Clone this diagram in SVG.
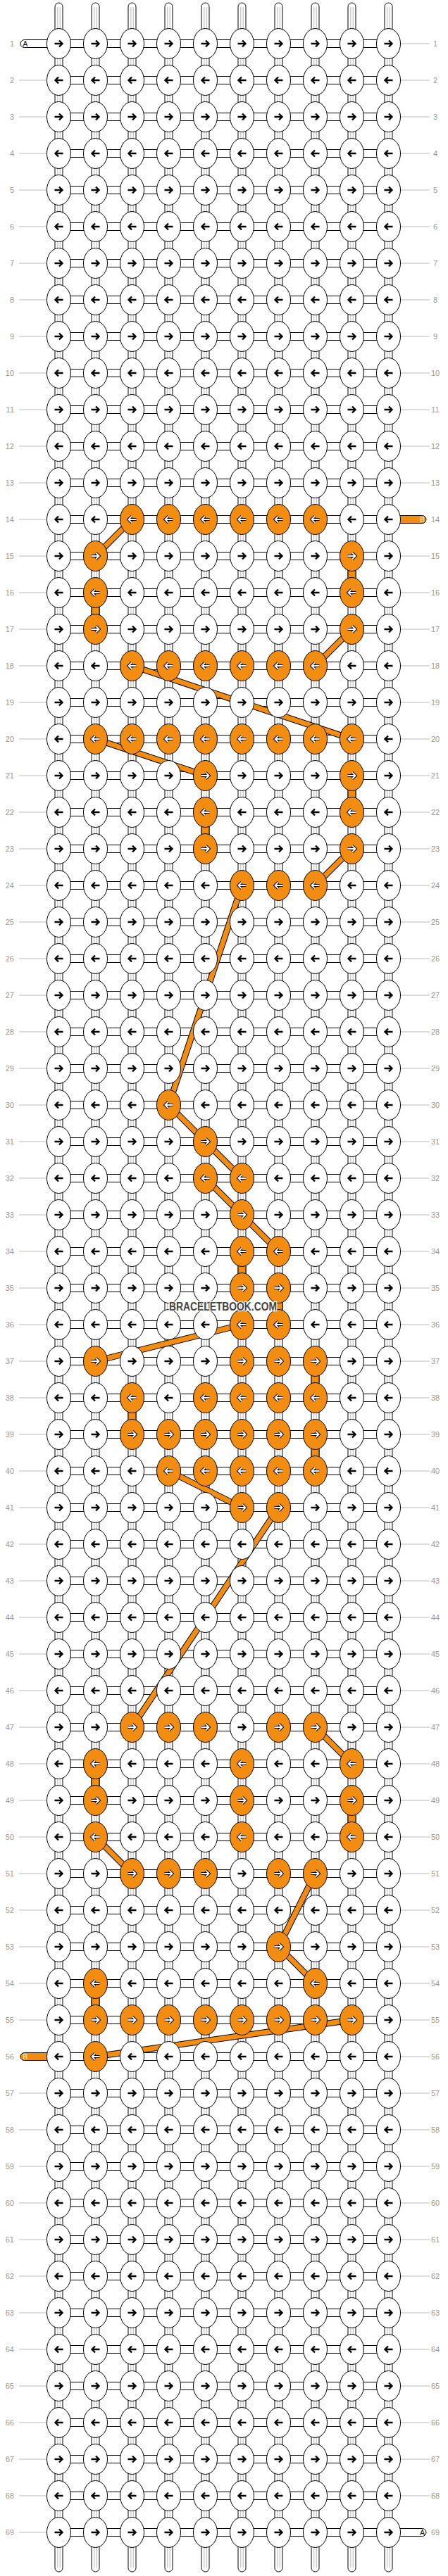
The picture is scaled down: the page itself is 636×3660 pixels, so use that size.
<svg xmlns="http://www.w3.org/2000/svg" xmlns:xlink="http://www.w3.org/1999/xlink" width="636" height="3660" viewBox="0 0 636 3660">
<style>
.tb{fill:#fff;stroke:#000;stroke-width:1}
.gl{fill:none;stroke:#b4b4b4;stroke-width:1}
.ov{fill:#F28D12;stroke:#000;stroke-width:1}
.ot{fill:#F28D12;stroke:#000;stroke-width:1}
.bo{fill:none;stroke:#000;stroke-width:9}
.bi{fill:none;stroke:#F28D12;stroke-width:7}
.nw{fill:#fff;stroke:#000;stroke-width:1}
.no{fill:#F28D12;stroke:#000;stroke-width:1}
.ab{fill:none;stroke:#000;stroke-width:2.4}
.ak{fill:none;stroke:#000;stroke-width:4}
.aw{fill:none;stroke:#fff;stroke-width:2}
.sl{fill:none;stroke:#bbb;stroke-width:1}
.ll{font-family:"Liberation Sans",Arial,sans-serif;font-size:11px;fill:#999;text-anchor:end}
.lr{font-family:"Liberation Sans",Arial,sans-serif;font-size:11px;fill:#999;text-anchor:middle}
.ta{font-family:"Liberation Sans",Arial,sans-serif;font-size:10px;fill:#000;text-anchor:middle}
.tw{font-family:"Liberation Sans",Arial,sans-serif;font-size:10px;fill:#fff;text-anchor:middle}
.wm{font-family:"Liberation Sans",Arial,sans-serif;font-size:16px;font-weight:bold;fill:#444;stroke:#fff;stroke-width:2.5;paint-order:stroke;text-anchor:middle}
</style>
<defs>
<path id="pr" d="M-6,0H4M0.5,-4.5L5,0L0.5,4.5"/>
<path id="pl" d="M6,0H-4M-0.5,-4.5L-5,0L-0.5,4.5"/>
<ellipse id="e" rx="17" ry="21.5"/>
<g id="a"><use href="#e" class="nw"/><use href="#pr" class="ab"/></g>
<g id="b"><use href="#e" class="nw"/><use href="#pl" class="ab"/></g>
<g id="c"><use href="#e" class="no"/><use href="#pr" class="ak"/><use href="#pr" class="aw"/></g>
<g id="d"><use href="#e" class="no"/><use href="#pl" class="ak"/><use href="#pl" class="aw"/></g>
<g id="col"><rect x="-5.5" y="4" width="11" height="3650" rx="5.5" class="tb"/><path d="M-1.7,10V3648M1.7,10V3648" class="gl"/></g>
<rect id="hl" x="83.5" y="-5.5" width="468" height="11" class="tb"/>
<path id="bands" d="M187.5,738L135.5,790M499.5,894L447.5,946M187.5,946L499.5,1050M135.5,1050L291.5,1102M499.5,1206L447.5,1258M343.5,1258L239.5,1570M239.5,1570L291.5,1622M291.5,1622L343.5,1674M291.5,1674L343.5,1726M343.5,1726L395.5,1778M343.5,1882L135.5,1934M239.5,2090L343.5,2142M395.5,2142L187.5,2454M447.5,2454L499.5,2506M135.5,2610L187.5,2662M447.5,2662L395.5,2766M395.5,2766L447.5,2818M499.5,2870L135.5,2922"/>
</defs>
<rect width="636" height="3660" fill="#fff"/>
<g id="connectors">
<g id="strings">
<use href="#col" x="83.5"/><use href="#col" x="135.5"/><use href="#col" x="187.5"/><use href="#col" x="239.5"/><use href="#col" x="291.5"/><use href="#col" x="343.5"/><use href="#col" x="395.5"/><use href="#col" x="447.5"/><use href="#col" x="499.5"/><use href="#col" x="551.5"/>
</g>
<g id="row-links">
<use href="#hl" y="62"/><use href="#hl" y="114"/><use href="#hl" y="166"/><use href="#hl" y="218"/><use href="#hl" y="270"/><use href="#hl" y="322"/><use href="#hl" y="374"/><use href="#hl" y="426"/><use href="#hl" y="478"/><use href="#hl" y="530"/><use href="#hl" y="582"/><use href="#hl" y="634"/><use href="#hl" y="686"/><use href="#hl" y="738"/><use href="#hl" y="790"/><use href="#hl" y="842"/><use href="#hl" y="894"/><use href="#hl" y="946"/><use href="#hl" y="998"/><use href="#hl" y="1050"/><use href="#hl" y="1102"/><use href="#hl" y="1154"/><use href="#hl" y="1206"/><use href="#hl" y="1258"/><use href="#hl" y="1310"/><use href="#hl" y="1362"/><use href="#hl" y="1414"/><use href="#hl" y="1466"/><use href="#hl" y="1518"/><use href="#hl" y="1570"/><use href="#hl" y="1622"/><use href="#hl" y="1674"/><use href="#hl" y="1726"/><use href="#hl" y="1778"/><use href="#hl" y="1830"/><use href="#hl" y="1882"/><use href="#hl" y="1934"/><use href="#hl" y="1986"/><use href="#hl" y="2038"/><use href="#hl" y="2090"/><use href="#hl" y="2142"/><use href="#hl" y="2194"/><use href="#hl" y="2246"/><use href="#hl" y="2298"/><use href="#hl" y="2350"/><use href="#hl" y="2402"/><use href="#hl" y="2454"/><use href="#hl" y="2506"/><use href="#hl" y="2558"/><use href="#hl" y="2610"/><use href="#hl" y="2662"/><use href="#hl" y="2714"/><use href="#hl" y="2766"/><use href="#hl" y="2818"/><use href="#hl" y="2870"/><use href="#hl" y="2922"/><use href="#hl" y="2974"/><use href="#hl" y="3026"/><use href="#hl" y="3078"/><use href="#hl" y="3130"/><use href="#hl" y="3182"/><use href="#hl" y="3234"/><use href="#hl" y="3286"/><use href="#hl" y="3338"/><use href="#hl" y="3390"/><use href="#hl" y="3442"/><use href="#hl" y="3494"/><use href="#hl" y="3546"/><use href="#hl" y="3598"/>
</g>
<g id="orange-links">
<rect class="ov" x="494" y="805" width="11" height="22"/>
<rect class="ov" x="130" y="857" width="11" height="22"/>
<rect class="ov" x="494" y="1117" width="11" height="22"/>
<rect class="ov" x="286" y="1169" width="11" height="22"/>
<rect class="ov" x="338" y="1793" width="11" height="22"/>
<rect class="ov" x="390" y="1845" width="11" height="22"/>
<rect class="ov" x="442" y="1949" width="11" height="22"/>
<rect class="ov" x="182" y="2001" width="11" height="22"/>
<rect class="ov" x="442" y="2053" width="11" height="22"/>
<rect class="ov" x="130" y="2521" width="11" height="22"/>
<rect class="ov" x="494" y="2573" width="11" height="22"/>
<rect class="ov" x="130" y="2833" width="11" height="22"/>
</g>
<g id="orange-path">
<use href="#bands" class="bo"/><use href="#bands" class="bi"/>
</g>
<g id="ends">
<rect class="tb" x="29" y="56.5" width="60" height="11" rx="5.5"/>
<rect class="tb" x="546" y="3592.5" width="59" height="11" rx="5.5"/>
<rect class="ot" x="546" y="732.5" width="59" height="11" rx="5.5"/>
<rect class="ot" x="29" y="2916.5" width="60" height="11" rx="5.5"/>
</g>
<path id="side-lines" class="sl" d="M27,114H66.5M27,166H66.5M27,218H66.5M27,270H66.5M27,322H66.5M27,374H66.5M27,426H66.5M27,478H66.5M27,530H66.5M27,582H66.5M27,634H66.5M27,686H66.5M27,738H66.5M27,790H66.5M27,842H66.5M27,894H66.5M27,946H66.5M27,998H66.5M27,1050H66.5M27,1102H66.5M27,1154H66.5M27,1206H66.5M27,1258H66.5M27,1310H66.5M27,1362H66.5M27,1414H66.5M27,1466H66.5M27,1518H66.5M27,1570H66.5M27,1622H66.5M27,1674H66.5M27,1726H66.5M27,1778H66.5M27,1830H66.5M27,1882H66.5M27,1934H66.5M27,1986H66.5M27,2038H66.5M27,2090H66.5M27,2142H66.5M27,2194H66.5M27,2246H66.5M27,2298H66.5M27,2350H66.5M27,2402H66.5M27,2454H66.5M27,2506H66.5M27,2558H66.5M27,2610H66.5M27,2662H66.5M27,2714H66.5M27,2766H66.5M27,2818H66.5M27,2870H66.5M27,2974H66.5M27,3026H66.5M27,3078H66.5M27,3130H66.5M27,3182H66.5M27,3234H66.5M27,3286H66.5M27,3338H66.5M27,3390H66.5M27,3442H66.5M27,3494H66.5M27,3546H66.5M27,3598H66.5M568.5,62H610M568.5,114H610M568.5,166H610M568.5,218H610M568.5,270H610M568.5,322H610M568.5,374H610M568.5,426H610M568.5,478H610M568.5,530H610M568.5,582H610M568.5,634H610M568.5,686H610M568.5,790H610M568.5,842H610M568.5,894H610M568.5,946H610M568.5,998H610M568.5,1050H610M568.5,1102H610M568.5,1154H610M568.5,1206H610M568.5,1258H610M568.5,1310H610M568.5,1362H610M568.5,1414H610M568.5,1466H610M568.5,1518H610M568.5,1570H610M568.5,1622H610M568.5,1674H610M568.5,1726H610M568.5,1778H610M568.5,1830H610M568.5,1882H610M568.5,1934H610M568.5,1986H610M568.5,2038H610M568.5,2090H610M568.5,2142H610M568.5,2194H610M568.5,2246H610M568.5,2298H610M568.5,2350H610M568.5,2402H610M568.5,2454H610M568.5,2506H610M568.5,2558H610M568.5,2610H610M568.5,2662H610M568.5,2714H610M568.5,2766H610M568.5,2818H610M568.5,2870H610M568.5,2922H610M568.5,2974H610M568.5,3026H610M568.5,3078H610M568.5,3130H610M568.5,3182H610M568.5,3234H610M568.5,3286H610M568.5,3338H610M568.5,3390H610M568.5,3442H610M568.5,3494H610M568.5,3546H610"/>
</g>
<g id="knots">
<g id="r1" transform="translate(0,62)"><use href="#a" x="83.5"/><use href="#a" x="135.5"/><use href="#a" x="187.5"/><use href="#a" x="239.5"/><use href="#a" x="291.5"/><use href="#a" x="343.5"/><use href="#a" x="395.5"/><use href="#a" x="447.5"/><use href="#a" x="499.5"/><use href="#a" x="551.5"/></g>
<g id="r2" transform="translate(0,114)"><use href="#b" x="83.5"/><use href="#b" x="135.5"/><use href="#b" x="187.5"/><use href="#b" x="239.5"/><use href="#b" x="291.5"/><use href="#b" x="343.5"/><use href="#b" x="395.5"/><use href="#b" x="447.5"/><use href="#b" x="499.5"/><use href="#b" x="551.5"/></g>
<g id="r3" transform="translate(0,166)"><use href="#a" x="83.5"/><use href="#a" x="135.5"/><use href="#a" x="187.5"/><use href="#a" x="239.5"/><use href="#a" x="291.5"/><use href="#a" x="343.5"/><use href="#a" x="395.5"/><use href="#a" x="447.5"/><use href="#a" x="499.5"/><use href="#a" x="551.5"/></g>
<g id="r4" transform="translate(0,218)"><use href="#b" x="83.5"/><use href="#b" x="135.5"/><use href="#b" x="187.5"/><use href="#b" x="239.5"/><use href="#b" x="291.5"/><use href="#b" x="343.5"/><use href="#b" x="395.5"/><use href="#b" x="447.5"/><use href="#b" x="499.5"/><use href="#b" x="551.5"/></g>
<g id="r5" transform="translate(0,270)"><use href="#a" x="83.5"/><use href="#a" x="135.5"/><use href="#a" x="187.5"/><use href="#a" x="239.5"/><use href="#a" x="291.5"/><use href="#a" x="343.5"/><use href="#a" x="395.5"/><use href="#a" x="447.5"/><use href="#a" x="499.5"/><use href="#a" x="551.5"/></g>
<g id="r6" transform="translate(0,322)"><use href="#b" x="83.5"/><use href="#b" x="135.5"/><use href="#b" x="187.5"/><use href="#b" x="239.5"/><use href="#b" x="291.5"/><use href="#b" x="343.5"/><use href="#b" x="395.5"/><use href="#b" x="447.5"/><use href="#b" x="499.5"/><use href="#b" x="551.5"/></g>
<g id="r7" transform="translate(0,374)"><use href="#a" x="83.5"/><use href="#a" x="135.5"/><use href="#a" x="187.5"/><use href="#a" x="239.5"/><use href="#a" x="291.5"/><use href="#a" x="343.5"/><use href="#a" x="395.5"/><use href="#a" x="447.5"/><use href="#a" x="499.5"/><use href="#a" x="551.5"/></g>
<g id="r8" transform="translate(0,426)"><use href="#b" x="83.5"/><use href="#b" x="135.5"/><use href="#b" x="187.5"/><use href="#b" x="239.5"/><use href="#b" x="291.5"/><use href="#b" x="343.5"/><use href="#b" x="395.5"/><use href="#b" x="447.5"/><use href="#b" x="499.5"/><use href="#b" x="551.5"/></g>
<g id="r9" transform="translate(0,478)"><use href="#a" x="83.5"/><use href="#a" x="135.5"/><use href="#a" x="187.5"/><use href="#a" x="239.5"/><use href="#a" x="291.5"/><use href="#a" x="343.5"/><use href="#a" x="395.5"/><use href="#a" x="447.5"/><use href="#a" x="499.5"/><use href="#a" x="551.5"/></g>
<g id="r10" transform="translate(0,530)"><use href="#b" x="83.5"/><use href="#b" x="135.5"/><use href="#b" x="187.5"/><use href="#b" x="239.5"/><use href="#b" x="291.5"/><use href="#b" x="343.5"/><use href="#b" x="395.5"/><use href="#b" x="447.5"/><use href="#b" x="499.5"/><use href="#b" x="551.5"/></g>
<g id="r11" transform="translate(0,582)"><use href="#a" x="83.5"/><use href="#a" x="135.5"/><use href="#a" x="187.5"/><use href="#a" x="239.5"/><use href="#a" x="291.5"/><use href="#a" x="343.5"/><use href="#a" x="395.5"/><use href="#a" x="447.5"/><use href="#a" x="499.5"/><use href="#a" x="551.5"/></g>
<g id="r12" transform="translate(0,634)"><use href="#b" x="83.5"/><use href="#b" x="135.5"/><use href="#b" x="187.5"/><use href="#b" x="239.5"/><use href="#b" x="291.5"/><use href="#b" x="343.5"/><use href="#b" x="395.5"/><use href="#b" x="447.5"/><use href="#b" x="499.5"/><use href="#b" x="551.5"/></g>
<g id="r13" transform="translate(0,686)"><use href="#a" x="83.5"/><use href="#a" x="135.5"/><use href="#a" x="187.5"/><use href="#a" x="239.5"/><use href="#a" x="291.5"/><use href="#a" x="343.5"/><use href="#a" x="395.5"/><use href="#a" x="447.5"/><use href="#a" x="499.5"/><use href="#a" x="551.5"/></g>
<g id="r14" transform="translate(0,738)"><use href="#b" x="83.5"/><use href="#b" x="135.5"/><use href="#d" x="187.5"/><use href="#d" x="239.5"/><use href="#d" x="291.5"/><use href="#d" x="343.5"/><use href="#d" x="395.5"/><use href="#d" x="447.5"/><use href="#b" x="499.5"/><use href="#b" x="551.5"/></g>
<g id="r15" transform="translate(0,790)"><use href="#a" x="83.5"/><use href="#c" x="135.5"/><use href="#a" x="187.5"/><use href="#a" x="239.5"/><use href="#a" x="291.5"/><use href="#a" x="343.5"/><use href="#a" x="395.5"/><use href="#a" x="447.5"/><use href="#c" x="499.5"/><use href="#a" x="551.5"/></g>
<g id="r16" transform="translate(0,842)"><use href="#b" x="83.5"/><use href="#d" x="135.5"/><use href="#b" x="187.5"/><use href="#b" x="239.5"/><use href="#b" x="291.5"/><use href="#b" x="343.5"/><use href="#b" x="395.5"/><use href="#b" x="447.5"/><use href="#d" x="499.5"/><use href="#b" x="551.5"/></g>
<g id="r17" transform="translate(0,894)"><use href="#a" x="83.5"/><use href="#c" x="135.5"/><use href="#a" x="187.5"/><use href="#a" x="239.5"/><use href="#a" x="291.5"/><use href="#a" x="343.5"/><use href="#a" x="395.5"/><use href="#a" x="447.5"/><use href="#c" x="499.5"/><use href="#a" x="551.5"/></g>
<g id="r18" transform="translate(0,946)"><use href="#b" x="83.5"/><use href="#b" x="135.5"/><use href="#d" x="187.5"/><use href="#d" x="239.5"/><use href="#d" x="291.5"/><use href="#d" x="343.5"/><use href="#d" x="395.5"/><use href="#d" x="447.5"/><use href="#b" x="499.5"/><use href="#b" x="551.5"/></g>
<g id="r19" transform="translate(0,998)"><use href="#a" x="83.5"/><use href="#a" x="135.5"/><use href="#a" x="187.5"/><use href="#a" x="239.5"/><use href="#a" x="291.5"/><use href="#a" x="343.5"/><use href="#a" x="395.5"/><use href="#a" x="447.5"/><use href="#a" x="499.5"/><use href="#a" x="551.5"/></g>
<g id="r20" transform="translate(0,1050)"><use href="#b" x="83.5"/><use href="#d" x="135.5"/><use href="#d" x="187.5"/><use href="#d" x="239.5"/><use href="#d" x="291.5"/><use href="#d" x="343.5"/><use href="#d" x="395.5"/><use href="#d" x="447.5"/><use href="#d" x="499.5"/><use href="#b" x="551.5"/></g>
<g id="r21" transform="translate(0,1102)"><use href="#a" x="83.5"/><use href="#a" x="135.5"/><use href="#a" x="187.5"/><use href="#a" x="239.5"/><use href="#c" x="291.5"/><use href="#a" x="343.5"/><use href="#a" x="395.5"/><use href="#a" x="447.5"/><use href="#c" x="499.5"/><use href="#a" x="551.5"/></g>
<g id="r22" transform="translate(0,1154)"><use href="#b" x="83.5"/><use href="#b" x="135.5"/><use href="#b" x="187.5"/><use href="#b" x="239.5"/><use href="#d" x="291.5"/><use href="#b" x="343.5"/><use href="#b" x="395.5"/><use href="#b" x="447.5"/><use href="#d" x="499.5"/><use href="#b" x="551.5"/></g>
<g id="r23" transform="translate(0,1206)"><use href="#a" x="83.5"/><use href="#a" x="135.5"/><use href="#a" x="187.5"/><use href="#a" x="239.5"/><use href="#c" x="291.5"/><use href="#a" x="343.5"/><use href="#a" x="395.5"/><use href="#a" x="447.5"/><use href="#c" x="499.5"/><use href="#a" x="551.5"/></g>
<g id="r24" transform="translate(0,1258)"><use href="#b" x="83.5"/><use href="#b" x="135.5"/><use href="#b" x="187.5"/><use href="#b" x="239.5"/><use href="#b" x="291.5"/><use href="#d" x="343.5"/><use href="#d" x="395.5"/><use href="#d" x="447.5"/><use href="#b" x="499.5"/><use href="#b" x="551.5"/></g>
<g id="r25" transform="translate(0,1310)"><use href="#a" x="83.5"/><use href="#a" x="135.5"/><use href="#a" x="187.5"/><use href="#a" x="239.5"/><use href="#a" x="291.5"/><use href="#a" x="343.5"/><use href="#a" x="395.5"/><use href="#a" x="447.5"/><use href="#a" x="499.5"/><use href="#a" x="551.5"/></g>
<g id="r26" transform="translate(0,1362)"><use href="#b" x="83.5"/><use href="#b" x="135.5"/><use href="#b" x="187.5"/><use href="#b" x="239.5"/><use href="#b" x="291.5"/><use href="#b" x="343.5"/><use href="#b" x="395.5"/><use href="#b" x="447.5"/><use href="#b" x="499.5"/><use href="#b" x="551.5"/></g>
<g id="r27" transform="translate(0,1414)"><use href="#a" x="83.5"/><use href="#a" x="135.5"/><use href="#a" x="187.5"/><use href="#a" x="239.5"/><use href="#a" x="291.5"/><use href="#a" x="343.5"/><use href="#a" x="395.5"/><use href="#a" x="447.5"/><use href="#a" x="499.5"/><use href="#a" x="551.5"/></g>
<g id="r28" transform="translate(0,1466)"><use href="#b" x="83.5"/><use href="#b" x="135.5"/><use href="#b" x="187.5"/><use href="#b" x="239.5"/><use href="#b" x="291.5"/><use href="#b" x="343.5"/><use href="#b" x="395.5"/><use href="#b" x="447.5"/><use href="#b" x="499.5"/><use href="#b" x="551.5"/></g>
<g id="r29" transform="translate(0,1518)"><use href="#a" x="83.5"/><use href="#a" x="135.5"/><use href="#a" x="187.5"/><use href="#a" x="239.5"/><use href="#a" x="291.5"/><use href="#a" x="343.5"/><use href="#a" x="395.5"/><use href="#a" x="447.5"/><use href="#a" x="499.5"/><use href="#a" x="551.5"/></g>
<g id="r30" transform="translate(0,1570)"><use href="#b" x="83.5"/><use href="#b" x="135.5"/><use href="#b" x="187.5"/><use href="#d" x="239.5"/><use href="#b" x="291.5"/><use href="#b" x="343.5"/><use href="#b" x="395.5"/><use href="#b" x="447.5"/><use href="#b" x="499.5"/><use href="#b" x="551.5"/></g>
<g id="r31" transform="translate(0,1622)"><use href="#a" x="83.5"/><use href="#a" x="135.5"/><use href="#a" x="187.5"/><use href="#a" x="239.5"/><use href="#c" x="291.5"/><use href="#a" x="343.5"/><use href="#a" x="395.5"/><use href="#a" x="447.5"/><use href="#a" x="499.5"/><use href="#a" x="551.5"/></g>
<g id="r32" transform="translate(0,1674)"><use href="#b" x="83.5"/><use href="#b" x="135.5"/><use href="#b" x="187.5"/><use href="#b" x="239.5"/><use href="#d" x="291.5"/><use href="#d" x="343.5"/><use href="#b" x="395.5"/><use href="#b" x="447.5"/><use href="#b" x="499.5"/><use href="#b" x="551.5"/></g>
<g id="r33" transform="translate(0,1726)"><use href="#a" x="83.5"/><use href="#a" x="135.5"/><use href="#a" x="187.5"/><use href="#a" x="239.5"/><use href="#a" x="291.5"/><use href="#c" x="343.5"/><use href="#a" x="395.5"/><use href="#a" x="447.5"/><use href="#a" x="499.5"/><use href="#a" x="551.5"/></g>
<g id="r34" transform="translate(0,1778)"><use href="#b" x="83.5"/><use href="#b" x="135.5"/><use href="#b" x="187.5"/><use href="#b" x="239.5"/><use href="#b" x="291.5"/><use href="#d" x="343.5"/><use href="#d" x="395.5"/><use href="#b" x="447.5"/><use href="#b" x="499.5"/><use href="#b" x="551.5"/></g>
<g id="r35" transform="translate(0,1830)"><use href="#a" x="83.5"/><use href="#a" x="135.5"/><use href="#a" x="187.5"/><use href="#a" x="239.5"/><use href="#a" x="291.5"/><use href="#c" x="343.5"/><use href="#c" x="395.5"/><use href="#a" x="447.5"/><use href="#a" x="499.5"/><use href="#a" x="551.5"/></g>
<g id="r36" transform="translate(0,1882)"><use href="#b" x="83.5"/><use href="#b" x="135.5"/><use href="#b" x="187.5"/><use href="#b" x="239.5"/><use href="#b" x="291.5"/><use href="#d" x="343.5"/><use href="#d" x="395.5"/><use href="#b" x="447.5"/><use href="#b" x="499.5"/><use href="#b" x="551.5"/></g>
<g id="r37" transform="translate(0,1934)"><use href="#a" x="83.5"/><use href="#c" x="135.5"/><use href="#a" x="187.5"/><use href="#a" x="239.5"/><use href="#a" x="291.5"/><use href="#c" x="343.5"/><use href="#c" x="395.5"/><use href="#c" x="447.5"/><use href="#a" x="499.5"/><use href="#a" x="551.5"/></g>
<g id="r38" transform="translate(0,1986)"><use href="#b" x="83.5"/><use href="#b" x="135.5"/><use href="#d" x="187.5"/><use href="#b" x="239.5"/><use href="#d" x="291.5"/><use href="#d" x="343.5"/><use href="#d" x="395.5"/><use href="#d" x="447.5"/><use href="#b" x="499.5"/><use href="#b" x="551.5"/></g>
<g id="r39" transform="translate(0,2038)"><use href="#a" x="83.5"/><use href="#a" x="135.5"/><use href="#c" x="187.5"/><use href="#c" x="239.5"/><use href="#c" x="291.5"/><use href="#c" x="343.5"/><use href="#c" x="395.5"/><use href="#c" x="447.5"/><use href="#a" x="499.5"/><use href="#a" x="551.5"/></g>
<g id="r40" transform="translate(0,2090)"><use href="#b" x="83.5"/><use href="#b" x="135.5"/><use href="#b" x="187.5"/><use href="#d" x="239.5"/><use href="#d" x="291.5"/><use href="#d" x="343.5"/><use href="#d" x="395.5"/><use href="#d" x="447.5"/><use href="#b" x="499.5"/><use href="#b" x="551.5"/></g>
<g id="r41" transform="translate(0,2142)"><use href="#a" x="83.5"/><use href="#a" x="135.5"/><use href="#a" x="187.5"/><use href="#a" x="239.5"/><use href="#a" x="291.5"/><use href="#c" x="343.5"/><use href="#c" x="395.5"/><use href="#a" x="447.5"/><use href="#a" x="499.5"/><use href="#a" x="551.5"/></g>
<g id="r42" transform="translate(0,2194)"><use href="#b" x="83.5"/><use href="#b" x="135.5"/><use href="#b" x="187.5"/><use href="#b" x="239.5"/><use href="#b" x="291.5"/><use href="#b" x="343.5"/><use href="#b" x="395.5"/><use href="#b" x="447.5"/><use href="#b" x="499.5"/><use href="#b" x="551.5"/></g>
<g id="r43" transform="translate(0,2246)"><use href="#a" x="83.5"/><use href="#a" x="135.5"/><use href="#a" x="187.5"/><use href="#a" x="239.5"/><use href="#a" x="291.5"/><use href="#a" x="343.5"/><use href="#a" x="395.5"/><use href="#a" x="447.5"/><use href="#a" x="499.5"/><use href="#a" x="551.5"/></g>
<g id="r44" transform="translate(0,2298)"><use href="#b" x="83.5"/><use href="#b" x="135.5"/><use href="#b" x="187.5"/><use href="#b" x="239.5"/><use href="#b" x="291.5"/><use href="#b" x="343.5"/><use href="#b" x="395.5"/><use href="#b" x="447.5"/><use href="#b" x="499.5"/><use href="#b" x="551.5"/></g>
<g id="r45" transform="translate(0,2350)"><use href="#a" x="83.5"/><use href="#a" x="135.5"/><use href="#a" x="187.5"/><use href="#a" x="239.5"/><use href="#a" x="291.5"/><use href="#a" x="343.5"/><use href="#a" x="395.5"/><use href="#a" x="447.5"/><use href="#a" x="499.5"/><use href="#a" x="551.5"/></g>
<g id="r46" transform="translate(0,2402)"><use href="#b" x="83.5"/><use href="#b" x="135.5"/><use href="#b" x="187.5"/><use href="#b" x="239.5"/><use href="#b" x="291.5"/><use href="#b" x="343.5"/><use href="#b" x="395.5"/><use href="#b" x="447.5"/><use href="#b" x="499.5"/><use href="#b" x="551.5"/></g>
<g id="r47" transform="translate(0,2454)"><use href="#a" x="83.5"/><use href="#a" x="135.5"/><use href="#c" x="187.5"/><use href="#c" x="239.5"/><use href="#c" x="291.5"/><use href="#a" x="343.5"/><use href="#c" x="395.5"/><use href="#c" x="447.5"/><use href="#a" x="499.5"/><use href="#a" x="551.5"/></g>
<g id="r48" transform="translate(0,2506)"><use href="#b" x="83.5"/><use href="#d" x="135.5"/><use href="#b" x="187.5"/><use href="#b" x="239.5"/><use href="#b" x="291.5"/><use href="#d" x="343.5"/><use href="#b" x="395.5"/><use href="#b" x="447.5"/><use href="#d" x="499.5"/><use href="#b" x="551.5"/></g>
<g id="r49" transform="translate(0,2558)"><use href="#a" x="83.5"/><use href="#c" x="135.5"/><use href="#a" x="187.5"/><use href="#a" x="239.5"/><use href="#a" x="291.5"/><use href="#c" x="343.5"/><use href="#a" x="395.5"/><use href="#a" x="447.5"/><use href="#c" x="499.5"/><use href="#a" x="551.5"/></g>
<g id="r50" transform="translate(0,2610)"><use href="#b" x="83.5"/><use href="#d" x="135.5"/><use href="#b" x="187.5"/><use href="#b" x="239.5"/><use href="#b" x="291.5"/><use href="#d" x="343.5"/><use href="#b" x="395.5"/><use href="#b" x="447.5"/><use href="#d" x="499.5"/><use href="#b" x="551.5"/></g>
<g id="r51" transform="translate(0,2662)"><use href="#a" x="83.5"/><use href="#a" x="135.5"/><use href="#c" x="187.5"/><use href="#c" x="239.5"/><use href="#c" x="291.5"/><use href="#a" x="343.5"/><use href="#c" x="395.5"/><use href="#c" x="447.5"/><use href="#a" x="499.5"/><use href="#a" x="551.5"/></g>
<g id="r52" transform="translate(0,2714)"><use href="#b" x="83.5"/><use href="#b" x="135.5"/><use href="#b" x="187.5"/><use href="#b" x="239.5"/><use href="#b" x="291.5"/><use href="#b" x="343.5"/><use href="#b" x="395.5"/><use href="#b" x="447.5"/><use href="#b" x="499.5"/><use href="#b" x="551.5"/></g>
<g id="r53" transform="translate(0,2766)"><use href="#a" x="83.5"/><use href="#a" x="135.5"/><use href="#a" x="187.5"/><use href="#a" x="239.5"/><use href="#a" x="291.5"/><use href="#a" x="343.5"/><use href="#c" x="395.5"/><use href="#a" x="447.5"/><use href="#a" x="499.5"/><use href="#a" x="551.5"/></g>
<g id="r54" transform="translate(0,2818)"><use href="#b" x="83.5"/><use href="#d" x="135.5"/><use href="#b" x="187.5"/><use href="#b" x="239.5"/><use href="#b" x="291.5"/><use href="#b" x="343.5"/><use href="#b" x="395.5"/><use href="#d" x="447.5"/><use href="#b" x="499.5"/><use href="#b" x="551.5"/></g>
<g id="r55" transform="translate(0,2870)"><use href="#a" x="83.5"/><use href="#c" x="135.5"/><use href="#c" x="187.5"/><use href="#c" x="239.5"/><use href="#c" x="291.5"/><use href="#c" x="343.5"/><use href="#c" x="395.5"/><use href="#c" x="447.5"/><use href="#c" x="499.5"/><use href="#a" x="551.5"/></g>
<g id="r56" transform="translate(0,2922)"><use href="#b" x="83.5"/><use href="#d" x="135.5"/><use href="#b" x="187.5"/><use href="#b" x="239.5"/><use href="#b" x="291.5"/><use href="#b" x="343.5"/><use href="#b" x="395.5"/><use href="#b" x="447.5"/><use href="#b" x="499.5"/><use href="#b" x="551.5"/></g>
<g id="r57" transform="translate(0,2974)"><use href="#a" x="83.5"/><use href="#a" x="135.5"/><use href="#a" x="187.5"/><use href="#a" x="239.5"/><use href="#a" x="291.5"/><use href="#a" x="343.5"/><use href="#a" x="395.5"/><use href="#a" x="447.5"/><use href="#a" x="499.5"/><use href="#a" x="551.5"/></g>
<g id="r58" transform="translate(0,3026)"><use href="#b" x="83.5"/><use href="#b" x="135.5"/><use href="#b" x="187.5"/><use href="#b" x="239.5"/><use href="#b" x="291.5"/><use href="#b" x="343.5"/><use href="#b" x="395.5"/><use href="#b" x="447.5"/><use href="#b" x="499.5"/><use href="#b" x="551.5"/></g>
<g id="r59" transform="translate(0,3078)"><use href="#a" x="83.5"/><use href="#a" x="135.5"/><use href="#a" x="187.5"/><use href="#a" x="239.5"/><use href="#a" x="291.5"/><use href="#a" x="343.5"/><use href="#a" x="395.5"/><use href="#a" x="447.5"/><use href="#a" x="499.5"/><use href="#a" x="551.5"/></g>
<g id="r60" transform="translate(0,3130)"><use href="#b" x="83.5"/><use href="#b" x="135.5"/><use href="#b" x="187.5"/><use href="#b" x="239.5"/><use href="#b" x="291.5"/><use href="#b" x="343.5"/><use href="#b" x="395.5"/><use href="#b" x="447.5"/><use href="#b" x="499.5"/><use href="#b" x="551.5"/></g>
<g id="r61" transform="translate(0,3182)"><use href="#a" x="83.5"/><use href="#a" x="135.5"/><use href="#a" x="187.5"/><use href="#a" x="239.5"/><use href="#a" x="291.5"/><use href="#a" x="343.5"/><use href="#a" x="395.5"/><use href="#a" x="447.5"/><use href="#a" x="499.5"/><use href="#a" x="551.5"/></g>
<g id="r62" transform="translate(0,3234)"><use href="#b" x="83.5"/><use href="#b" x="135.5"/><use href="#b" x="187.5"/><use href="#b" x="239.5"/><use href="#b" x="291.5"/><use href="#b" x="343.5"/><use href="#b" x="395.5"/><use href="#b" x="447.5"/><use href="#b" x="499.5"/><use href="#b" x="551.5"/></g>
<g id="r63" transform="translate(0,3286)"><use href="#a" x="83.5"/><use href="#a" x="135.5"/><use href="#a" x="187.5"/><use href="#a" x="239.5"/><use href="#a" x="291.5"/><use href="#a" x="343.5"/><use href="#a" x="395.5"/><use href="#a" x="447.5"/><use href="#a" x="499.5"/><use href="#a" x="551.5"/></g>
<g id="r64" transform="translate(0,3338)"><use href="#b" x="83.5"/><use href="#b" x="135.5"/><use href="#b" x="187.5"/><use href="#b" x="239.5"/><use href="#b" x="291.5"/><use href="#b" x="343.5"/><use href="#b" x="395.5"/><use href="#b" x="447.5"/><use href="#b" x="499.5"/><use href="#b" x="551.5"/></g>
<g id="r65" transform="translate(0,3390)"><use href="#a" x="83.5"/><use href="#a" x="135.5"/><use href="#a" x="187.5"/><use href="#a" x="239.5"/><use href="#a" x="291.5"/><use href="#a" x="343.5"/><use href="#a" x="395.5"/><use href="#a" x="447.5"/><use href="#a" x="499.5"/><use href="#a" x="551.5"/></g>
<g id="r66" transform="translate(0,3442)"><use href="#b" x="83.5"/><use href="#b" x="135.5"/><use href="#b" x="187.5"/><use href="#b" x="239.5"/><use href="#b" x="291.5"/><use href="#b" x="343.5"/><use href="#b" x="395.5"/><use href="#b" x="447.5"/><use href="#b" x="499.5"/><use href="#b" x="551.5"/></g>
<g id="r67" transform="translate(0,3494)"><use href="#a" x="83.5"/><use href="#a" x="135.5"/><use href="#a" x="187.5"/><use href="#a" x="239.5"/><use href="#a" x="291.5"/><use href="#a" x="343.5"/><use href="#a" x="395.5"/><use href="#a" x="447.5"/><use href="#a" x="499.5"/><use href="#a" x="551.5"/></g>
<g id="r68" transform="translate(0,3546)"><use href="#b" x="83.5"/><use href="#b" x="135.5"/><use href="#b" x="187.5"/><use href="#b" x="239.5"/><use href="#b" x="291.5"/><use href="#b" x="343.5"/><use href="#b" x="395.5"/><use href="#b" x="447.5"/><use href="#b" x="499.5"/><use href="#b" x="551.5"/></g>
<g id="r69" transform="translate(0,3598)"><use href="#a" x="83.5"/><use href="#a" x="135.5"/><use href="#a" x="187.5"/><use href="#a" x="239.5"/><use href="#a" x="291.5"/><use href="#a" x="343.5"/><use href="#a" x="395.5"/><use href="#a" x="447.5"/><use href="#a" x="499.5"/><use href="#a" x="551.5"/></g>
</g>
<g id="end-labels">
<text class="ta" x="35.8" y="65.5">A</text>
<text class="ta" x="599.5" y="3601.5">A</text>
<text class="tw" x="599.5" y="741.5">B</text>
<text class="tw" x="35.8" y="2925.5">B</text>
</g>
<g id="row-numbers">
<text class="ll" x="20" y="66">1</text><text class="lr" x="618" y="66">1</text>
<text class="ll" x="20" y="118">2</text><text class="lr" x="618" y="118">2</text>
<text class="ll" x="20" y="170">3</text><text class="lr" x="618" y="170">3</text>
<text class="ll" x="20" y="222">4</text><text class="lr" x="618" y="222">4</text>
<text class="ll" x="20" y="274">5</text><text class="lr" x="618" y="274">5</text>
<text class="ll" x="20" y="326">6</text><text class="lr" x="618" y="326">6</text>
<text class="ll" x="20" y="378">7</text><text class="lr" x="618" y="378">7</text>
<text class="ll" x="20" y="430">8</text><text class="lr" x="618" y="430">8</text>
<text class="ll" x="20" y="482">9</text><text class="lr" x="618" y="482">9</text>
<text class="ll" x="20" y="534">10</text><text class="lr" x="618" y="534">10</text>
<text class="ll" x="20" y="586">11</text><text class="lr" x="618" y="586">11</text>
<text class="ll" x="20" y="638">12</text><text class="lr" x="618" y="638">12</text>
<text class="ll" x="20" y="690">13</text><text class="lr" x="618" y="690">13</text>
<text class="ll" x="20" y="742">14</text><text class="lr" x="618" y="742">14</text>
<text class="ll" x="20" y="794">15</text><text class="lr" x="618" y="794">15</text>
<text class="ll" x="20" y="846">16</text><text class="lr" x="618" y="846">16</text>
<text class="ll" x="20" y="898">17</text><text class="lr" x="618" y="898">17</text>
<text class="ll" x="20" y="950">18</text><text class="lr" x="618" y="950">18</text>
<text class="ll" x="20" y="1002">19</text><text class="lr" x="618" y="1002">19</text>
<text class="ll" x="20" y="1054">20</text><text class="lr" x="618" y="1054">20</text>
<text class="ll" x="20" y="1106">21</text><text class="lr" x="618" y="1106">21</text>
<text class="ll" x="20" y="1158">22</text><text class="lr" x="618" y="1158">22</text>
<text class="ll" x="20" y="1210">23</text><text class="lr" x="618" y="1210">23</text>
<text class="ll" x="20" y="1262">24</text><text class="lr" x="618" y="1262">24</text>
<text class="ll" x="20" y="1314">25</text><text class="lr" x="618" y="1314">25</text>
<text class="ll" x="20" y="1366">26</text><text class="lr" x="618" y="1366">26</text>
<text class="ll" x="20" y="1418">27</text><text class="lr" x="618" y="1418">27</text>
<text class="ll" x="20" y="1470">28</text><text class="lr" x="618" y="1470">28</text>
<text class="ll" x="20" y="1522">29</text><text class="lr" x="618" y="1522">29</text>
<text class="ll" x="20" y="1574">30</text><text class="lr" x="618" y="1574">30</text>
<text class="ll" x="20" y="1626">31</text><text class="lr" x="618" y="1626">31</text>
<text class="ll" x="20" y="1678">32</text><text class="lr" x="618" y="1678">32</text>
<text class="ll" x="20" y="1730">33</text><text class="lr" x="618" y="1730">33</text>
<text class="ll" x="20" y="1782">34</text><text class="lr" x="618" y="1782">34</text>
<text class="ll" x="20" y="1834">35</text><text class="lr" x="618" y="1834">35</text>
<text class="ll" x="20" y="1886">36</text><text class="lr" x="618" y="1886">36</text>
<text class="ll" x="20" y="1938">37</text><text class="lr" x="618" y="1938">37</text>
<text class="ll" x="20" y="1990">38</text><text class="lr" x="618" y="1990">38</text>
<text class="ll" x="20" y="2042">39</text><text class="lr" x="618" y="2042">39</text>
<text class="ll" x="20" y="2094">40</text><text class="lr" x="618" y="2094">40</text>
<text class="ll" x="20" y="2146">41</text><text class="lr" x="618" y="2146">41</text>
<text class="ll" x="20" y="2198">42</text><text class="lr" x="618" y="2198">42</text>
<text class="ll" x="20" y="2250">43</text><text class="lr" x="618" y="2250">43</text>
<text class="ll" x="20" y="2302">44</text><text class="lr" x="618" y="2302">44</text>
<text class="ll" x="20" y="2354">45</text><text class="lr" x="618" y="2354">45</text>
<text class="ll" x="20" y="2406">46</text><text class="lr" x="618" y="2406">46</text>
<text class="ll" x="20" y="2458">47</text><text class="lr" x="618" y="2458">47</text>
<text class="ll" x="20" y="2510">48</text><text class="lr" x="618" y="2510">48</text>
<text class="ll" x="20" y="2562">49</text><text class="lr" x="618" y="2562">49</text>
<text class="ll" x="20" y="2614">50</text><text class="lr" x="618" y="2614">50</text>
<text class="ll" x="20" y="2666">51</text><text class="lr" x="618" y="2666">51</text>
<text class="ll" x="20" y="2718">52</text><text class="lr" x="618" y="2718">52</text>
<text class="ll" x="20" y="2770">53</text><text class="lr" x="618" y="2770">53</text>
<text class="ll" x="20" y="2822">54</text><text class="lr" x="618" y="2822">54</text>
<text class="ll" x="20" y="2874">55</text><text class="lr" x="618" y="2874">55</text>
<text class="ll" x="20" y="2926">56</text><text class="lr" x="618" y="2926">56</text>
<text class="ll" x="20" y="2978">57</text><text class="lr" x="618" y="2978">57</text>
<text class="ll" x="20" y="3030">58</text><text class="lr" x="618" y="3030">58</text>
<text class="ll" x="20" y="3082">59</text><text class="lr" x="618" y="3082">59</text>
<text class="ll" x="20" y="3134">60</text><text class="lr" x="618" y="3134">60</text>
<text class="ll" x="20" y="3186">61</text><text class="lr" x="618" y="3186">61</text>
<text class="ll" x="20" y="3238">62</text><text class="lr" x="618" y="3238">62</text>
<text class="ll" x="20" y="3290">63</text><text class="lr" x="618" y="3290">63</text>
<text class="ll" x="20" y="3342">64</text><text class="lr" x="618" y="3342">64</text>
<text class="ll" x="20" y="3394">65</text><text class="lr" x="618" y="3394">65</text>
<text class="ll" x="20" y="3446">66</text><text class="lr" x="618" y="3446">66</text>
<text class="ll" x="20" y="3498">67</text><text class="lr" x="618" y="3498">67</text>
<text class="ll" x="20" y="3550">68</text><text class="lr" x="618" y="3550">68</text>
<text class="ll" x="20" y="3602">69</text><text class="lr" x="618" y="3602">69</text>
</g>
<text id="watermark" class="wm" x="316.5" y="1862" textLength="153" lengthAdjust="spacingAndGlyphs">BRACELETBOOK.COM</text>
</svg>
